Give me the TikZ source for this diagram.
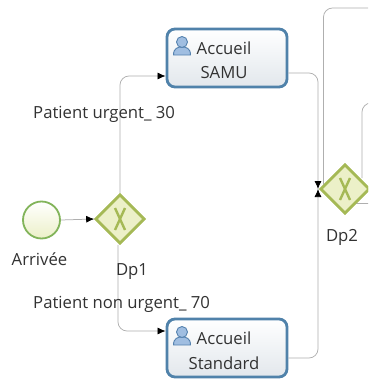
\documentclass[tikz,border=0pt]{standalone}
\usepackage{fontspec}
\setmainfont{Open Sans}
\usetikzlibrary{arrows.meta,shapes.geometric}
\definecolor{flowc}{RGB}{175,175,175}
\definecolor{taskb}{RGB}{80,130,170}
\definecolor{taskf}{RGB}{226,231,236}
\definecolor{gateb}{RGB}{165,185,85}
\definecolor{gatef}{RGB}{236,240,200}
\definecolor{startb}{RGB}{130,180,90}
\definecolor{iconf}{RGB}{160,190,225}
\definecolor{iconb}{RGB}{85,130,175}
\definecolor{txt}{RGB}{50,50,50}
\tikzset{x=1pt,y=-1pt,
  flow/.style={draw=flowc,line width=0.75pt,rounded corners=9pt},
  flowarrow/.style={flow,-{Latex[black,length=8pt,width=7pt]}},
  task/.style={draw=taskb,line width=2.8pt,rounded corners=8pt,top color=white,bottom color=taskf,minimum width=120pt,minimum height=58pt,inner sep=0pt},
  gate/.style={diamond,aspect=1,draw=gateb,line width=2.6pt,fill=gatef,minimum width=49pt,minimum height=49pt,inner sep=0pt},
  start/.style={circle,draw=startb,line width=1.8pt,top color=white,bottom color=gatef,minimum size=37pt,inner sep=0pt},
  lbl/.style={text=txt,font=\fontsize{16.7pt}{18pt}\selectfont,inner sep=0pt,anchor=center}
}
\newcommand{\personicon}[2]{%
  \fill[iconf,draw=iconb,line width=0.9pt] (#1-8.5,#2+9) .. controls (#1-8.5,#2+2) and (#1-4,#2+1) .. (#1,#2+1) .. controls (#1+4,#2+1) and (#1+8.5,#2+2) .. (#1+8.5,#2+9) -- cycle;
  \fill[iconf,draw=iconb,line width=0.9pt] (#1,#2-4) circle (5.5pt);
}
\newcommand{\gatex}[2]{%
  \draw[gateb,line width=2.4pt] (#1-5,#2-11) -- (#1+5,#2+11) (#1+5,#2-11) -- (#1-5,#2+11);
}
\begin{document}
\begin{tikzpicture}
\useasboundingbox (0,0) rectangle (368,380);
\clip (0,0) rectangle (368,380);
\fill[white] (0,0) rectangle (368,380);
% nodes
\node[start] (arr) at (41.5,220) {};
\node[gate] (dp1) at (120,219) {};
\node[gate] (dp2) at (345,189) {};
\node[task] (samu) at (227,58) {};
\node[task] (std) at (227,348) {};
\coordinate (r1) at (318,189);
\coordinate (top) at (380,8);
\coordinate (top2) at (380,103);
\coordinate (out2) at (380,203);
% connectors
\draw[flowarrow] (arr.east) -- (dp1.west);
\draw[flowarrow] (dp1.north) -- (120,76) -- (samu.west |- 0,76);
\draw[flowarrow] (dp1.south) ++(-2,0) -- (118,331) -- (std.west |- 0,331);
\draw[flowarrow] (samu.east |- 0,73) -- (318,73) -- (r1);
\draw[flowarrow] (std.east |- 0,358) -- (318,358) -- (r1);
\draw[flow] (top) -- (323.5,8) -- (323.5,186);
\draw[flow] (top2) -- (362,103) -- (362,178);
\draw[flow,rounded corners=0pt] (355,203) -- (out2);
% redraw gateways over connector ends
\node[gate] at (dp1) {};
\node[gate] at (dp2) {};
\gatex{120}{219}
\gatex{345}{189}
% icons
\personicon{182}{46}
\personicon{182}{336}
% labels
\node[lbl] at (224,48) {Accueil};
\node[lbl] at (224,73) {SAMU};
\node[lbl] at (224,338) {Accueil};
\node[lbl] at (224,363) {Standard};
\node[lbl] at (39.5,259) {Arrivée};
\node[lbl] at (132,272) {Dp1};
\node[lbl] at (342,237) {Dp2};
\node[lbl,anchor=west] at (33,114) {Patient urgent\_ 30};
\node[lbl,anchor=west] at (33,304) {Patient non urgent\_ 70};
\end{tikzpicture}
\end{document}
